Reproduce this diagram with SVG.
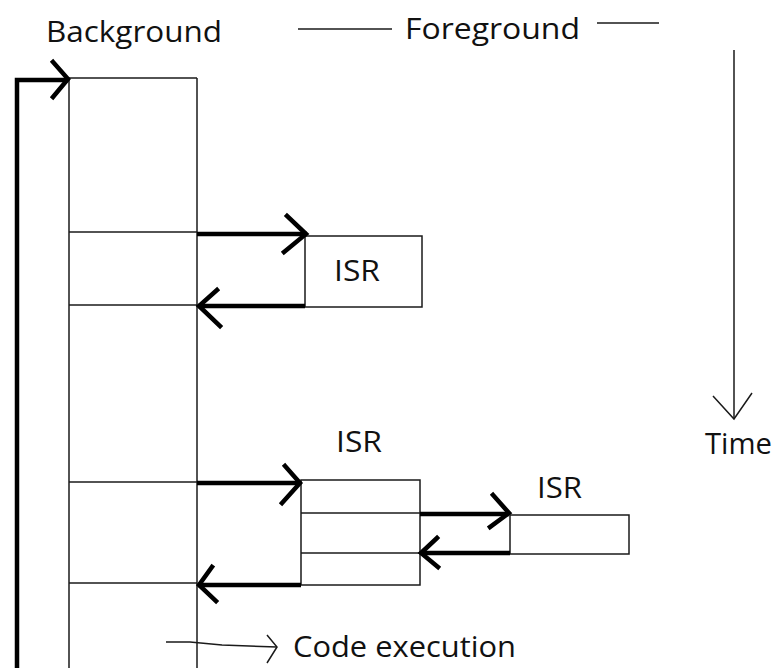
<svg xmlns="http://www.w3.org/2000/svg" width="776" height="668" viewBox="0 0 776 668">
<style>
.t{font-family:"Open Sans","Liberation Sans",sans-serif;font-size:29px;fill:#111}
.thin{stroke:#1a1a1a;stroke-width:1.5;fill:none}
.thick{stroke:#000;stroke-width:4.5;fill:none;stroke-linecap:butt}
.head{stroke:#000;stroke-width:4.5;fill:none;stroke-linecap:square}
.box{stroke:#1a1a1a;stroke-width:1.5;fill:#fff}
</style>
<rect width="776" height="668" fill="#fff"/>
<g id="background">
<text class="t" x="46" y="42" textLength="176" lengthAdjust="spacingAndGlyphs">Background</text>
<line class="thin" x1="69" y1="78" x2="69" y2="668"/>
<line class="thin" x1="197" y1="78" x2="197" y2="668"/>
<line class="thin" x1="69" y1="78" x2="197" y2="78"/>
<line class="thin" x1="69" y1="232" x2="197" y2="232"/>
<line class="thin" x1="69" y1="305" x2="197" y2="305"/>
<line class="thin" x1="69" y1="482" x2="197" y2="482"/>
<line class="thin" x1="69" y1="583" x2="197" y2="583"/>
</g>
<g id="foreground">
<line class="thin" x1="298" y1="29" x2="392" y2="29"/>
<text class="t" x="405" y="39" textLength="175" lengthAdjust="spacingAndGlyphs">Foreground</text>
<line class="thin" x1="597" y1="23" x2="659" y2="23"/>
</g>
<g id="isr1">
<rect class="box" x="305" y="236" width="117" height="71"/>
<text class="t" x="334" y="281" textLength="46" lengthAdjust="spacingAndGlyphs">ISR</text>
</g>
<g id="isr2">
<rect class="box" x="301" y="480" width="119" height="105"/>
<line class="thin" x1="301" y1="513" x2="420" y2="513"/>
<line class="thin" x1="301" y1="553" x2="420" y2="553"/>
<text class="t" x="336" y="452" textLength="46" lengthAdjust="spacingAndGlyphs">ISR</text>
</g>
<g id="isr3">
<rect class="box" x="510" y="515" width="119" height="39"/>
<text class="t" x="537" y="498" textLength="45" lengthAdjust="spacingAndGlyphs">ISR</text>
</g>
<g id="time">
<line class="thin" x1="734" y1="50" x2="734" y2="419"/>
<polyline class="thin" points="713,396 734,419 752,393"/>
<text class="t" x="705" y="454" textLength="67" lengthAdjust="spacingAndGlyphs">Time</text>
</g>
<g id="legend">
<polyline class="thin" points="166,642 190,642 222,645 277,647"/>
<polyline class="thin" points="267,635 277,647 267,663"/>
<text class="t" x="293" y="657" textLength="223" lengthAdjust="spacingAndGlyphs">Code execution</text>
</g>
<g id="connectors">
<polyline class="thick" points="17,668 17,80 68,80"/>
<polyline class="head" points="53,62 68,79 53,97"/>
<line class="thick" x1="197" y1="234" x2="307" y2="234"/>
<polyline class="head" points="287,216 306,234 284,252"/>
<line class="thick" x1="305" y1="306" x2="198" y2="306"/>
<polyline class="head" points="217,290 199,306 220,326"/>
<line class="thick" x1="197" y1="483" x2="300" y2="483"/>
<polyline class="head" points="285,466 300,483 282,503"/>
<line class="thick" x1="420" y1="514" x2="509" y2="514"/>
<polyline class="head" points="493,495 509,513 490,527"/>
<line class="thick" x1="510" y1="553" x2="421" y2="553"/>
<polyline class="head" points="437,538 421,553 438,567"/>
<line class="thick" x1="301" y1="585" x2="198" y2="585"/>
<polyline class="head" points="212,567 199,585 216,601"/>
</g>
</svg>
